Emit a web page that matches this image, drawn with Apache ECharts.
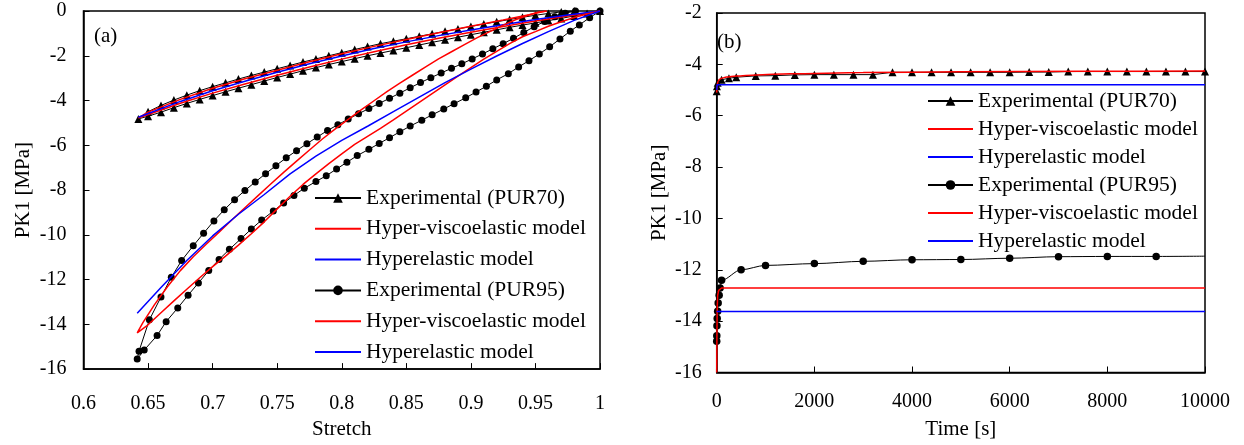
<!DOCTYPE html>
<html>
<head>
<meta charset="utf-8">
<script src="https://cdn.jsdelivr.net/npm/echarts@6/dist/echarts.min.js"></script>
<style>
html,body{margin:0;padding:0;background:#fff;}
#chart{width:1244px;height:445px;}
</style>
</head>
<body>
<div id="chart"></div>
<script>
// ---------- Panel (a): PK1 vs stretch ----------
// PUR70 experimental: loading (1 -> 0.6425) then unloading
const sLoad70 = [1.00,0.99,0.98,0.97,0.96,0.95,0.94,0.93,0.92,0.91,0.90,0.89,0.88,0.87,0.86,0.85,0.84,0.83,0.82,0.81,0.80,0.79,0.78,0.77,0.76,0.75,0.74,0.73,0.72,0.71,0.70,0.69,0.68,0.67,0.66,0.65,0.6425];
const pLoad70 = [0,-0.11,-0.22,-0.33,-0.43,-0.53,-0.63,-0.73,-0.84,-0.95,-1.06,-1.17,-1.29,-1.40,-1.52,-1.64,-1.76,-1.88,-2.00,-2.13,-2.26,-2.39,-2.53,-2.67,-2.82,-2.97,-3.13,-3.29,-3.45,-3.61,-3.78,-3.95,-4.13,-4.32,-4.52,-4.70,-4.82];
const sUnload70 = [0.65,0.66,0.67,0.68,0.69,0.70,0.71,0.72,0.73,0.74,0.75,0.76,0.77,0.78,0.79,0.80,0.81,0.82,0.83,0.84,0.85,0.86,0.87,0.88,0.89,0.90,0.91,0.92,0.93,0.94,0.95,0.96,0.97,0.98];
const pUnload70 = [-4.50,-4.22,-3.98,-3.76,-3.56,-3.38,-3.21,-3.04,-2.88,-2.73,-2.58,-2.43,-2.28,-2.14,-2.00,-1.86,-1.72,-1.59,-1.46,-1.35,-1.24,-1.13,-1.02,-0.91,-0.80,-0.69,-0.58,-0.48,-0.38,-0.28,-0.19,-0.11,-0.04,0];

// PUR70 hyper-viscoelastic model (loop)
const sViscoLoad70 = [1.0,0.975,0.95,0.925,0.90,0.875,0.85,0.825,0.80,0.775,0.75,0.725,0.70,0.675,0.6425];
const pViscoLoad70 = [0,-0.22,-0.45,-0.69,-0.95,-1.22,-1.51,-1.82,-2.15,-2.50,-2.87,-3.26,-3.67,-4.12,-4.78];
const sViscoUnload70 = [0.65,0.675,0.70,0.725,0.75,0.775,0.80,0.825,0.85,0.875,0.90,0.925,0.945,0.958];
const pViscoUnload70 = [-4.52,-3.95,-3.45,-3.03,-2.65,-2.27,-1.91,-1.58,-1.27,-0.97,-0.68,-0.40,-0.17,0];

// PUR70 hyperelastic model
const sHyper70 = [1.0,0.975,0.95,0.925,0.90,0.875,0.85,0.825,0.80,0.775,0.75,0.725,0.70,0.675,0.6425];
const pHyper70 = [0,-0.18,-0.38,-0.61,-0.85,-1.10,-1.38,-1.68,-2.01,-2.36,-2.74,-3.14,-3.56,-4.04,-4.75];

// PUR95 experimental: loading then unloading
const sLoad95 = [1.000,0.992,0.984,0.977,0.969,0.961,0.953,0.945,0.937,0.929,0.920,0.912,0.904,0.896,0.887,0.879,0.870,0.862,0.853,0.845,0.837,0.829,0.821,0.812,0.804,0.796,0.788,0.780,0.771,0.763,0.755,0.747,0.738,0.730,0.722,0.713,0.705,0.697,0.689,0.681,0.673,0.664,0.657,0.647,0.6416];
const pLoad95 = [0,-0.30,-0.62,-0.90,-1.25,-1.60,-1.92,-2.22,-2.50,-2.80,-3.08,-3.36,-3.62,-3.88,-4.14,-4.38,-4.64,-4.88,-5.14,-5.40,-5.66,-5.92,-6.18,-6.46,-6.76,-7.06,-7.36,-7.62,-7.92,-8.24,-8.58,-8.94,-9.34,-9.74,-10.17,-10.65,-11.10,-11.60,-12.15,-12.70,-13.27,-13.88,-14.50,-15.15,-15.55];
const sUnload95 = [0.643,0.651,0.660,0.668,0.676,0.685,0.693,0.701,0.709,0.717,0.725,0.733,0.741,0.749,0.757,0.765,0.773,0.781,0.789,0.797,0.805,0.813,0.821,0.829,0.837,0.845,0.853,0.861,0.869,0.877,0.885,0.893,0.901,0.909,0.917,0.925,0.933,0.941,0.949,0.957,0.965,0.973,0.981];
const pUnload95 = [-15.20,-13.80,-12.78,-11.90,-11.15,-10.49,-9.93,-9.38,-8.88,-8.43,-8.02,-7.64,-7.27,-6.91,-6.56,-6.24,-5.93,-5.63,-5.34,-5.08,-4.83,-4.59,-4.36,-4.13,-3.90,-3.67,-3.43,-3.20,-2.98,-2.77,-2.56,-2.36,-2.14,-1.92,-1.69,-1.46,-1.22,-0.96,-0.70,-0.47,-0.26,-0.10,0];

// PUR95 hyper-viscoelastic model (loop)
const sViscoLoad95 = [1.000,0.990,0.980,0.970,0.960,0.950,0.940,0.930,0.920,0.910,0.900,0.890,0.880,0.870,0.860,0.850,0.840,0.830,0.820,0.810,0.800,0.790,0.780,0.770,0.760,0.750,0.740,0.730,0.720,0.710,0.700,0.690,0.680,0.670,0.660,0.650,0.6416];
const pViscoLoad95 = [0,-0.13,-0.29,-0.48,-0.68,-0.92,-1.15,-1.46,-1.80,-2.15,-2.53,-2.91,-3.30,-3.69,-4.08,-4.47,-4.86,-5.24,-5.60,-5.96,-6.38,-6.82,-7.28,-7.75,-8.28,-8.84,-9.42,-9.95,-10.46,-10.95,-11.42,-11.92,-12.43,-12.95,-13.48,-14.02,-14.38];
const sViscoUnload95 = [0.646,0.655,0.665,0.675,0.685,0.695,0.705,0.715,0.725,0.735,0.745,0.755,0.765,0.775,0.785,0.795,0.805,0.815,0.825,0.835,0.845,0.855,0.865,0.875,0.885,0.895,0.905,0.915,0.925,0.935,0.945,0.952,0.959];
const pViscoUnload95 = [-13.92,-13.12,-12.32,-11.60,-10.98,-10.42,-9.88,-9.33,-8.79,-8.26,-7.73,-7.21,-6.71,-6.21,-5.72,-5.27,-4.84,-4.42,-4.01,-3.60,-3.22,-2.86,-2.50,-2.14,-1.82,-1.50,-1.19,-0.91,-0.63,-0.38,-0.18,-0.06,0];

// PUR95 hyperelastic model
const sHyper95 = [1.00,0.98,0.96,0.94,0.92,0.90,0.88,0.86,0.84,0.82,0.80,0.78,0.76,0.74,0.72,0.70,0.68,0.66,0.6416];
const pHyper95 = [0,-0.42,-0.92,-1.45,-2.01,-2.60,-3.20,-3.85,-4.50,-5.15,-5.78,-6.48,-7.28,-8.20,-9.08,-10.05,-11.15,-12.35,-13.50];

// ---------- Panel (b): PK1 vs time ----------
const tExp70 = [0,5,20,100,250,400,800,1200,1600,2000,2400,2800,3200,3600,4000,4400,4800,5200,5600,6000,6400,6800,7200,7600,8000,8400,8800,9200,9600,10000];
const pExp70 = [-5.05,-4.85,-4.72,-4.60,-4.54,-4.50,-4.45,-4.44,-4.41,-4.40,-4.40,-4.40,-4.40,-4.31,-4.31,-4.31,-4.31,-4.31,-4.31,-4.31,-4.30,-4.30,-4.28,-4.28,-4.28,-4.28,-4.28,-4.28,-4.28,-4.28];
const tVisco70 = [0,10,30,60,100,200,400,800,1500,3000,5000,7500,10000];
const pVisco70 = [-5.10,-4.80,-4.65,-4.58,-4.54,-4.49,-4.45,-4.41,-4.37,-4.32,-4.29,-4.27,-4.26];
const tHyper70 = [0,10,10000];
const pHyper70t = [-5.00,-4.79,-4.79];

const tExp95 = [0,2,5,10,20,30,50,70,100,500,1000,2000,3000,4000,5000,6000,7000,8000,9000,10000];
const pExp95 = [-14.78,-14.57,-14.18,-13.90,-13.61,-13.29,-12.99,-12.71,-12.41,-12.00,-11.83,-11.76,-11.67,-11.61,-11.60,-11.55,-11.49,-11.48,-11.48,-11.47];
const tVisco95 = [0,5,10,20,40,70,100,10000];
const pVisco95 = [-16.0,-14.5,-13.5,-13.0,-12.8,-12.73,-12.71,-12.71];
const tHyper95 = [0,10000];
const pHyper95t = [-13.62,-13.62];

const legendLabels = ['Experimental (PUR70)','Hyper-viscoelastic model','Hyperelastic model','Experimental (PUR95)','Hyper-viscoelastic model','Hyperelastic model'];

// ---------- build ----------
const zip = (xs, ys) => xs.map((x, i) => [x, ys[i]]);
const FONT = 'Liberation Serif';
const RED = '#ff0000', BLUE = '#0000ff';

function expSeries(name, data, xi, symbol, size, lastNoSymbol) {
  const d = data.map((p, i) => (lastNoSymbol && i === data.length - 1) ? {value: p, symbol: 'none'} : p);
  return {
    name, type: 'line', xAxisIndex: xi, yAxisIndex: xi, data: d,
    symbol, symbolSize: size, showSymbol: true,
    lineStyle: {color: '#000', width: 1}, itemStyle: {color: '#000'},
    smooth: false, z: 2
  };
}
function modelSeries(name, data, xi, color, smooth) {
  return {
    name, type: 'line', xAxisIndex: xi, yAxisIndex: xi, data,
    symbol: 'none', lineStyle: {color, width: 1.5}, itemStyle: {color: 'rgba(0,0,0,0)'},
    smooth: smooth || false, smoothMonotone: smooth ? 'x' : undefined,
    z: 3
  };
}

const axisCommon = {
  axisLine: {show: true, onZero: false, lineStyle: {color: '#000', width: 1.5}},
  axisTick: {show: true, inside: true, length: 6, lineStyle: {color: '#000', width: 1}},
  splitLine: {show: false},
  axisLabel: {color: '#000', fontFamily: FONT, fontSize: 20, formatter: v => String(v)},
  nameTextStyle: {color: '#000', fontFamily: FONT, fontSize: 21},
  nameLocation: 'middle'
};
const lbl = (m) => Object.assign({}, axisCommon.axisLabel, {margin: m});

const option = {
  animation: false,
  backgroundColor: '#fff',
  grid: [
    {left: 83.5, top: 11, width: 516.5, height: 366, show: true, borderColor: '#000', borderWidth: 1.5},
    {left: 716.7, top: 13, width: 488.3, height: 359.5, show: true, borderColor: '#000', borderWidth: 1.5}
  ],
  xAxis: [
    Object.assign({}, axisCommon, {gridIndex: 0, type: 'value', min: 0.6, max: 1, interval: 0.05, name: 'Stretch', nameGap: 47, axisLabel: lbl(25)}),
    Object.assign({}, axisCommon, {gridIndex: 1, type: 'value', min: 0, max: 10000, interval: 2000, name: 'Time [s]', nameGap: 46, axisLabel: lbl(19)})
  ],
  yAxis: [
    Object.assign({}, axisCommon, {gridIndex: 0, type: 'value', min: -16, max: 0, interval: 2, name: 'PK1 [MPa]', nameGap: 50, axisLabel: lbl(17)}),
    Object.assign({}, axisCommon, {gridIndex: 1, type: 'value', min: -16, max: -2, interval: 2, name: 'PK1 [MPa]', nameGap: 47, axisLabel: lbl(15)})
  ],
  legend: [
    {data: ['a0','a1','a2','a3','a4','a5'], orient: 'vertical', left: 309, top: 182, itemWidth: 46, itemHeight: 12,
     itemGap: 8.8, formatter: n => legendLabels[+n.slice(1)], selectedMode: false,
     textStyle: {fontFamily: FONT, fontSize: 21.5, color: '#000', lineHeight: 22}},
    {data: ['b0','b1','b2','b3','b4','b5'], orient: 'vertical', left: 922, top: 85, itemWidth: 45, itemHeight: 12,
     itemGap: 6, formatter: n => legendLabels[+n.slice(1)], selectedMode: false,
     textStyle: {fontFamily: FONT, fontSize: 21.5, color: '#000', lineHeight: 22}}
  ],
  graphic: [
    {type: 'text', left: 94, top: 26, style: {text: '(a)', font: '21px "Liberation Serif"', fill: '#000'}},
    {type: 'text', left: 717, top: 32, style: {text: '(b)', font: '21px "Liberation Serif"', fill: '#000'}}
  ],
  series: [
    expSeries('a0', zip(sLoad70.concat(sUnload70), pLoad70.concat(pUnload70)), 0, 'triangle', 8),
    modelSeries('a1', zip(sViscoLoad70.concat(sViscoUnload70), pViscoLoad70.concat(pViscoUnload70)), 0, RED),
    modelSeries('a2', zip(sHyper70, pHyper70), 0, BLUE),
    expSeries('a3', zip(sLoad95.concat(sUnload95), pLoad95.concat(pUnload95)), 0, 'circle', 7),
    modelSeries('a4', zip(sViscoLoad95.concat(sViscoUnload95), pViscoLoad95.concat(pViscoUnload95)), 0, RED),
    modelSeries('a5', zip(sHyper95, pHyper95), 0, BLUE),

    expSeries('b0', zip(tExp70, pExp70), 1, 'triangle', 8),
    modelSeries('b1', zip(tVisco70, pVisco70), 1, RED, 0.3),
    modelSeries('b2', zip(tHyper70, pHyper70t), 1, BLUE),
    expSeries('b3', zip(tExp95, pExp95), 1, 'circle', 7.5, true),
    modelSeries('b4', zip(tVisco95, pVisco95), 1, RED),
    modelSeries('b5', zip(tHyper95, pHyper95t), 1, BLUE)
  ]
};
option.series[9].smooth = 0.3;
option.series[9].smoothMonotone = 'x';

const chart = echarts.init(document.getElementById('chart'), null, {renderer: 'canvas'});
chart.setOption(option);
</script>
</body>
</html>
